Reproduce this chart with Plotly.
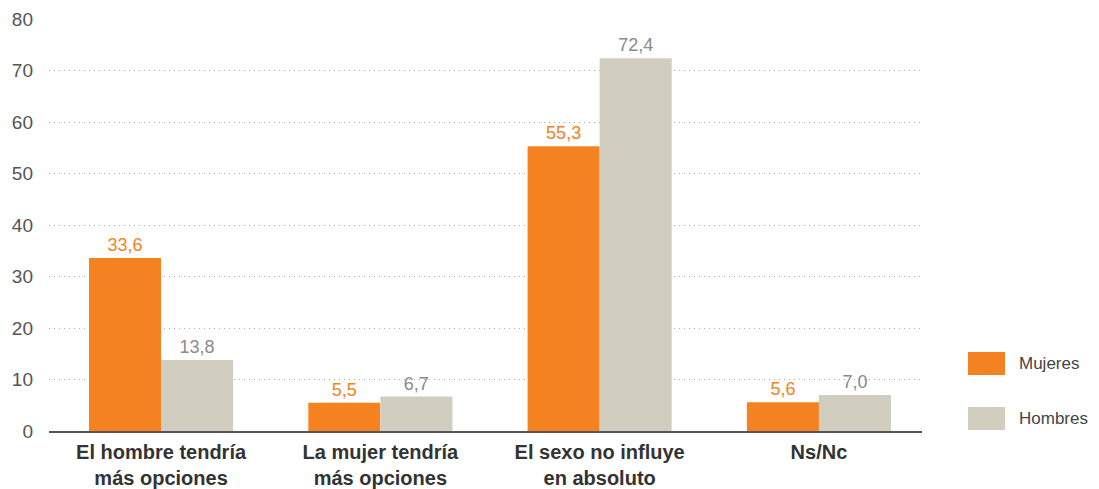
import plotly.graph_objects as go

categories = ["El hombre tendría<br>más opciones", "La mujer tendría<br>más opciones",
              "El sexo no influye<br>en absoluto", "Ns/Nc"]
mujeres = [33.6, 5.5, 55.3, 5.6]
hombres = [13.8, 6.7, 72.4, 7.0]
series_names = ["Mujeres", "Hombres"]
colors = ["#F48220", "#D1CEC0"]
text_colors = ["#F48220", "#8A8A8A"]
y_ticks = [0, 10, 20, 30, 40, 50, 60, 70, 80]

fig = go.Figure()
for name, vals, c, tc in zip(series_names, [mujeres, hombres], colors, text_colors):
    fig.add_trace(go.Bar(
        x=categories, y=vals, name=name, marker=dict(color=c, line=dict(width=0)),
        texttemplate="%{y:.1f}", textposition="outside",
        textfont=dict(color=tc, size=18, family="Liberation Sans"),
        cliponaxis=False, showlegend=False,
    ))

fig.update_layout(
    width=1091, height=481,
    margin=dict(l=41, r=177, t=11, b=58, autoexpand=False),
    barmode="group", bargap=0.343, bargroupgap=0,
    separators=",.",
    plot_bgcolor="white", paper_bgcolor="white",
    font=dict(family="Liberation Sans", size=18, color="#555555"),
    xaxis=dict(
        range=[-0.511, 3.47],
        tickfont=dict(size=20, color="#333333", weight="bold"),
        showline=True, linecolor="#555555", linewidth=2,
        ticks="", showgrid=False, ticklabelstandoff=2, automargin=False,
    ),
    yaxis=dict(
        range=[0, 80], tickvals=y_ticks, showgrid=True, gridcolor="#AAAAAA",
        griddash="1px,4px", gridwidth=1, zeroline=False, showline=False,
        tickfont=dict(size=19, color="#555555"), ticks="", ticklabelstandoff=15,
        automargin=False,
    ),
)

# Custom legend
legend_items = [(0.1359, 0.1917), (0.0024, 0.0583)]
for name, c, (y0, y1) in zip(series_names, colors, legend_items):
    fig.add_shape(type="rect", xref="paper", yref="paper",
                  x0=1.0527, x1=1.0951, y0=y0, y1=y1,
                  fillcolor=c, line=dict(width=0))
    fig.add_annotation(xref="paper", yref="paper", x=1.1088, y=(y0 + y1) / 2, text=name,
                       showarrow=False, xanchor="left", yanchor="middle",
                       font=dict(size=17, color="#444444"))

fig.write_html("out.html")
